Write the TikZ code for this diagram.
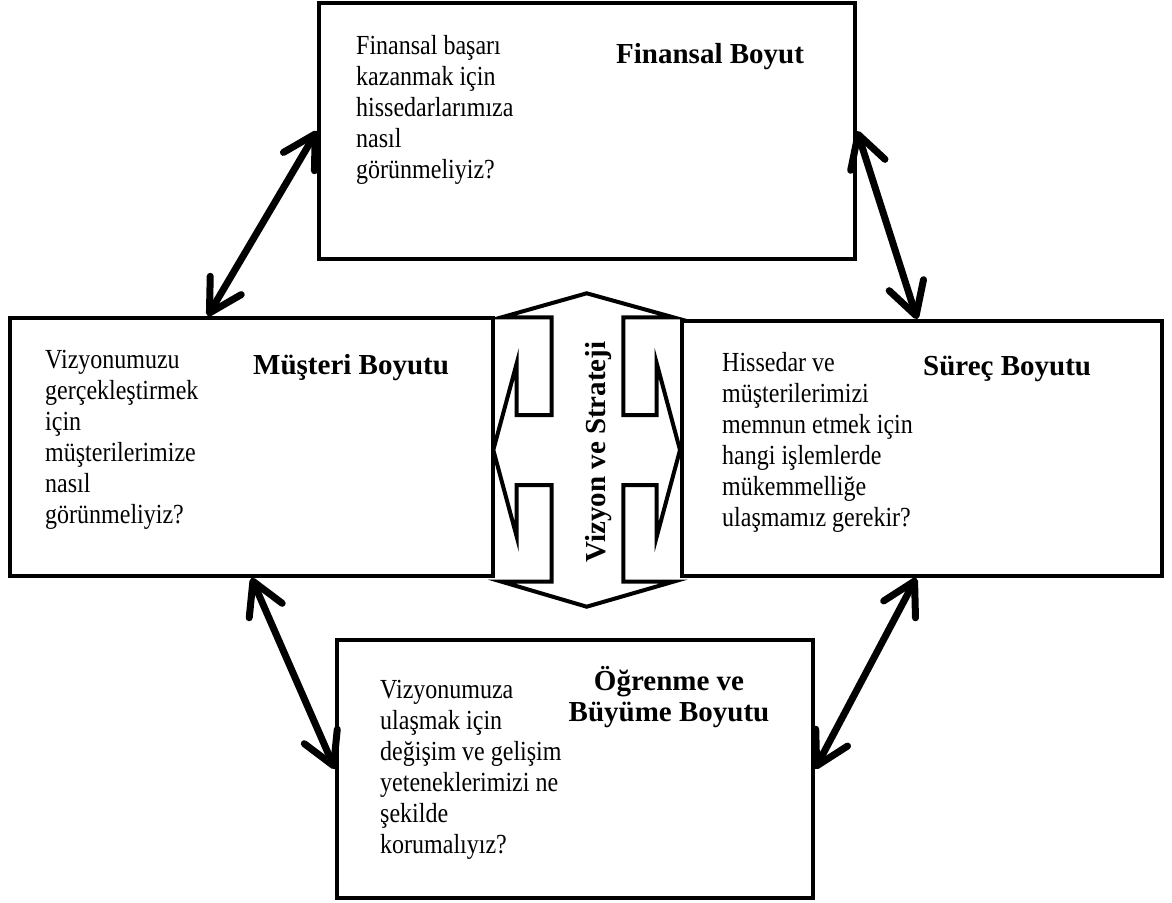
\documentclass[tikz,border=0pt]{standalone}
\usepackage{fontspec}
\usepackage{graphicx}
\setmainfont{Liberation Serif}
\usetikzlibrary{arrows.meta,calc}
% left-aligned block of lines, slightly tall type
\newcommand{\boxlines}[1]{\scalebox{1}[1.15]{\begin{tabular}[t]{@{}l@{}}#1\end{tabular}}}
\begin{document}
\begin{tikzpicture}[x=1pt,y=-1pt,
  panel/.style={draw, line width=4pt, inner sep=0pt},
  body/.style={anchor=base west, inner sep=0pt, font=\fontsize{24}{27}\selectfont},
  heading/.style={anchor=base west, inner sep=0pt, font=\fontsize{29}{31}\selectfont\bfseries},
  barb/.tip={Straight Barb[length=32pt,width=36pt,line width=7pt,round]},
  link/.style={line width=7pt, line cap=round, barb-barb},
  cross/.style={draw, fill=white, line width=4pt, line join=miter}
]
\useasboundingbox (0,0) rectangle (1172,902);

% central double cross arrow
\draw[cross] (586.7,293.3) -- (673.3,317.3) -- (623.3,317.3) -- (623.3,415)
  -- (656.7,415) -- (656.7,363.3) -- (680,450) -- (656.7,536.7) -- (656.7,485)
  -- (623.3,485) -- (623.3,581.7) -- (673.3,581.7) -- (586.7,606.7)
  -- (501.7,581.7) -- (551.7,581.7) -- (551.7,485) -- (516.7,485)
  -- (516.7,536.7) -- (493.3,450) -- (516.7,363.3) -- (516.7,415)
  -- (551.7,415) -- (551.7,317.3) -- (501.7,317.3) -- cycle;
\node[rotate=90, anchor=base, inner sep=0pt, font=\fontsize{29}{31}\selectfont\bfseries] (vs) at (605,452) {Vizyon ve Strateji};

% the four perspective boxes
\node[panel, minimum width=536pt, minimum height=256pt] (fin) at (587,131) {};
\node[panel, minimum width=483pt, minimum height=258pt] (mus) at (251.5,447) {};
\node[panel, minimum width=480pt, minimum height=255pt] (sur) at (922,448.5) {};
\node[panel, minimum width=476pt, minimum height=258pt] (ogr) at (575,769) {};

% texts
\node[body] (fint) at (356,54) {\boxlines{Finansal başarı\\kazanmak için\\hissedarlarımıza\\nasıl\\görünmeliyiz?}};
\node[heading] (finh) at (616,63) {Finansal Boyut};

\node[body] (must) at (45,368) {\boxlines{Vizyonumuzu\\gerçekleştirmek\\için\\müşterilerimize\\nasıl\\görünmeliyiz?}};
\node[heading] (mush) at (253,374) {Müşteri Boyutu};

\node[body] (surt) at (722,371) {\boxlines{Hissedar ve\\müşterilerimizi\\memnun etmek için\\hangi işlemlerde\\mükemmelliğe\\ulaşmamız gerekir?}};
\node[heading] (surh) at (923,375) {Süreç Boyutu};

\node[body] (ogrt) at (380,698) {\boxlines{Vizyonumuza\\ulaşmak için\\değişim ve gelişim\\yeteneklerimizi ne\\şekilde\\korumalıyız?}};
\node[heading, anchor=base] (ogrh) at (669,690) {\begin{tabular}[t]{@{}c@{}}Öğrenme ve\\Büyüme Boyutu\end{tabular}};

% connectors between the boxes
\draw[link] (fin.west) -- ($(mus.north west)!0.41!(mus.north east)$);
\draw[link] (fin.east) -- ($(sur.north west)!0.49!(sur.north east)$);
\draw[link] (mus.south) -- (ogr.west);
\draw[link] ($(sur.south west)!0.488!(sur.south east)$) -- (ogr.east);
\end{tikzpicture}
\end{document}
